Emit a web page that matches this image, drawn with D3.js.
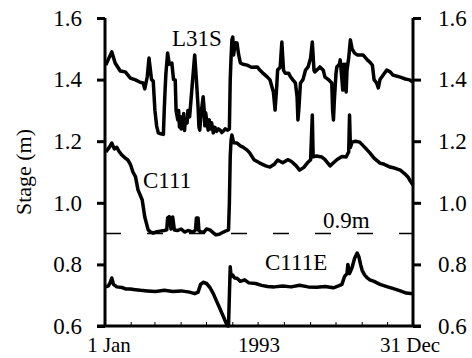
<!DOCTYPE html>
<html>
<head>
<meta charset="utf-8">
<script src="https://cdn.jsdelivr.net/npm/d3@7"></script>
<style>
  body { margin: 0; background: #fff; }
  svg, svg text { font-family: "Liberation Serif", serif !important; }
  .series { fill: none; stroke: #000; stroke-width: 3.5; stroke-linejoin: round; }
</style>
</head>
<body>
<svg class="js-stage" width="472" height="358"></svg>
<script>
// day of year (0 = 1 Jan, 364 = 31 Dec), stage in m
var l31sDays = [1, 2, 8, 12, 18, 24, 30, 36, 41, 45, 47, 50, 52, 55, 57, 59, 61, 63, 66, 69, 70, 71, 72, 74, 76, 79, 81, 83, 84, 86, 87, 88, 89, 90, 91, 92, 93, 94, 95, 97, 98, 100, 103, 106, 108, 110, 111, 112, 113, 114, 116, 117, 118, 119, 121, 122, 123, 125, 126, 128, 130, 132, 134, 136, 138, 140, 142, 145, 147, 148, 149, 150, 151, 152, 153, 154, 156, 158, 160, 163, 168, 173, 180, 183, 187, 192, 195, 199, 201, 203, 204, 207, 209, 211, 213, 217, 219, 222, 225, 227, 228, 229, 231, 234, 237, 240, 243, 245, 247, 248, 252, 254, 258, 260, 264, 268, 269, 270, 271, 273, 274, 277, 278, 280, 281, 282, 283, 284, 285, 286, 288, 290, 292, 295, 298, 305, 310, 313, 316, 318, 321, 323, 325, 333, 337, 340, 349, 355, 360, 364],
    l31sStage = [1.447, 1.454, 1.49, 1.454, 1.428, 1.425, 1.405, 1.399, 1.392, 1.389, 1.37, 1.41, 1.47, 1.4, 1.395, 1.3, 1.25, 1.227, 1.224, 1.222, 1.3, 1.366, 1.42, 1.486, 1.45, 1.454, 1.4, 1.399, 1.3, 1.269, 1.3, 1.246, 1.28, 1.24, 1.27, 1.25, 1.29, 1.235, 1.27, 1.259, 1.3, 1.279, 1.38, 1.48, 1.4, 1.311, 1.246, 1.236, 1.27, 1.3, 1.344, 1.31, 1.25, 1.292, 1.25, 1.236, 1.27, 1.24, 1.26, 1.227, 1.245, 1.232, 1.24, 1.236, 1.228, 1.233, 1.24, 1.236, 1.24, 1.4, 1.473, 1.529, 1.538, 1.48, 1.5, 1.52, 1.519, 1.48, 1.454, 1.45, 1.447, 1.44, 1.441, 1.431, 1.42, 1.408, 1.399, 1.36, 1.301, 1.38, 1.431, 1.44, 1.522, 1.43, 1.421, 1.421, 1.41, 1.399, 1.389, 1.344, 1.269, 1.3, 1.389, 1.4, 1.431, 1.441, 1.47, 1.522, 1.43, 1.425, 1.435, 1.441, 1.43, 1.408, 1.4, 1.389, 1.3, 1.269, 1.33, 1.42, 1.441, 1.45, 1.464, 1.4, 1.366, 1.45, 1.38, 1.45, 1.36, 1.43, 1.47, 1.529, 1.5, 1.486, 1.48, 1.48, 1.464, 1.457, 1.447, 1.4, 1.389, 1.373, 1.4, 1.431, 1.425, 1.415, 1.408, 1.402, 1.399, 1.392, 1.399];

var c111Days = [1, 5, 8, 11, 14, 17, 20, 24, 27, 30, 33, 36, 39, 44, 47, 51, 54, 57, 60, 65, 70, 73, 74, 76, 78, 80, 82, 86, 90, 94, 98, 104, 107, 108, 110, 111, 113, 117, 120, 124, 127, 131, 135, 140, 144, 146, 147, 148, 149, 150, 152, 156, 160, 163, 168, 171, 176, 183, 190, 195, 200, 204, 210, 216, 220, 226, 230, 235, 239, 243, 245, 246, 250, 256, 260, 266, 270, 274, 280, 285, 287, 288, 289, 290, 292, 296, 301, 307, 313, 318, 325, 330, 337, 343, 349, 354, 358, 361, 364],
    c111Stage = [1.165, 1.18, 1.194, 1.175, 1.18, 1.165, 1.155, 1.145, 1.139, 1.125, 1.1, 1.085, 1.042, 1.009, 0.954, 0.912, 0.905, 0.902, 0.905, 0.908, 0.91, 0.912, 0.951, 0.955, 0.915, 0.954, 0.912, 0.91, 0.915, 0.905, 0.91, 0.905, 0.912, 0.951, 0.951, 0.91, 0.905, 0.905, 0.915, 0.912, 0.905, 0.896, 0.898, 0.905, 0.91, 0.912, 1.0, 1.15, 1.204, 1.22, 1.195, 1.194, 1.185, 1.181, 1.171, 1.162, 1.14, 1.129, 1.12, 1.116, 1.125, 1.139, 1.13, 1.14, 1.135, 1.12, 1.106, 1.115, 1.129, 1.14, 1.285, 1.149, 1.152, 1.149, 1.14, 1.12, 1.13, 1.14, 1.15, 1.149, 1.16, 1.165, 1.285, 1.18, 1.197, 1.2, 1.197, 1.18, 1.162, 1.145, 1.129, 1.125, 1.116, 1.112, 1.106, 1.095, 1.084, 1.07, 1.058];

var c111eDays = [1, 4, 6, 8, 10, 14, 20, 25, 30, 36, 42, 50, 60, 70, 80, 90, 100, 106, 110, 113, 116, 120, 124, 128, 132, 136, 140, 143, 145, 146, 147, 148, 149, 151, 153, 156, 160, 165, 170, 178, 185, 192, 200, 210, 220, 230, 240, 250, 260, 270, 276, 280, 283, 286, 287, 289, 292, 295, 298, 300, 302, 304, 307, 310, 313, 318, 325, 333, 340, 349, 356, 364],
    c111eStage = [0.727, 0.73, 0.74, 0.756, 0.735, 0.727, 0.725, 0.72, 0.72, 0.718, 0.716, 0.714, 0.712, 0.716, 0.712, 0.714, 0.71, 0.705, 0.71, 0.735, 0.742, 0.738, 0.725, 0.705, 0.68, 0.655, 0.63, 0.61, 0.6, 0.6, 0.7, 0.792, 0.76, 0.765, 0.756, 0.755, 0.745, 0.75, 0.74, 0.738, 0.732, 0.728, 0.727, 0.73, 0.727, 0.732, 0.727, 0.726, 0.728, 0.724, 0.73, 0.735, 0.76, 0.77, 0.8, 0.77, 0.79, 0.82, 0.837, 0.825, 0.8, 0.78, 0.765, 0.756, 0.75, 0.745, 0.735, 0.728, 0.722, 0.714, 0.707, 0.705];

var yTicks = [0.6, 0.8, 1.0, 1.2, 1.4, 1.6],
    xLabels = [{day: 0, text: '1 Jan'}, {day: 182, text: '1993'}, {day: 364, text: '31 Dec'}],
    monthStarts = [31, 59, 90, 120, 151, 181, 212, 243, 273, 304, 334],
    refStage = 0.9;

var svg = d3.select('.js-stage'),
    x = d3.scaleLinear().domain([0, 364]).range([105, 413]),
    y = d3.scaleLinear().domain([0.6, 1.6]).range([326, 18]);

function zip(days, vals) {
  return days.map(function(d, i) { return [d, vals[i]]; });
}

var line = d3.line()
    .x(function(d) { return x(d[0]); })
    .y(function(d) { return y(d[1]); });

// 0.9 m reference line
svg.append('line')
    .attr('x1', x(0)).attr('x2', x(364))
    .attr('y1', y(refStage)).attr('y2', y(refStage))
    .attr('stroke', '#000')
    .attr('stroke-width', 1.5)
    .attr('stroke-dasharray', '16,26');

[zip(l31sDays, l31sStage), zip(c111Days, c111Stage), zip(c111eDays, c111eStage)].forEach(function(s) {
  svg.append('path').datum(s).attr('class', 'series').attr('d', line);
});

// axes
var left = d3.axisLeft(y).tickValues(yTicks).tickSize(8).tickPadding(15).tickFormat(d3.format('.1f'));
var right = d3.axisRight(y).tickValues(yTicks).tickSize(8).tickPadding(17).tickFormat(d3.format('.1f'));

[svg.append('g').attr('transform', 'translate(' + x(0) + ',0)').call(left),
 svg.append('g').attr('transform', 'translate(' + x(364) + ',0)').call(right)].forEach(function(g) {
  g.attr('font-family', null).attr('font-size', 23);
  g.select('.domain').attr('stroke-width', 3).attr('d', 'M0,' + y(1.6) + 'V' + y(0.6));
  g.selectAll('.tick line').attr('stroke-width', 3);
});

// bottom line with small month ticks
svg.append('line')
    .attr('x1', x(0) - 8).attr('x2', x(364) + 8)
    .attr('y1', y(0.6)).attr('y2', y(0.6))
    .attr('stroke', '#000').attr('stroke-width', 3);
svg.selectAll('.mtick')
    .data(monthStarts)
    .enter()
    .append('line')
    .attr('x1', function(d) { return x(d); }).attr('x2', function(d) { return x(d); })
    .attr('y1', y(0.6)).attr('y2', y(0.6) - 4)
    .attr('stroke', '#000').attr('stroke-width', 1);

svg.selectAll('.xlab')
    .data(xLabels)
    .enter()
    .append('text')
    .attr('x', function(d) { return x(d.day) + (d.day === 0 ? 4 : d.day === 364 ? -3 : 0); })
    .attr('y', 352)
    .attr('text-anchor', 'middle')
    .attr('font-size', 21)
    .text(function(d) { return d.text; });

svg.append('text')
    .attr('transform', 'translate(31,172) rotate(-90)')
    .attr('text-anchor', 'middle')
    .attr('font-size', 22)
    .text('Stage (m)');

// series labels
[['L31S', 172, 46], ['C111', 143, 188], ['C111E', 265, 270], ['0.9m', 323, 228]].forEach(function(l) {
  svg.append('text').attr('x', l[1]).attr('y', l[2]).attr('font-size', 23).text(l[0]);
});
</script>
</body>
</html>
